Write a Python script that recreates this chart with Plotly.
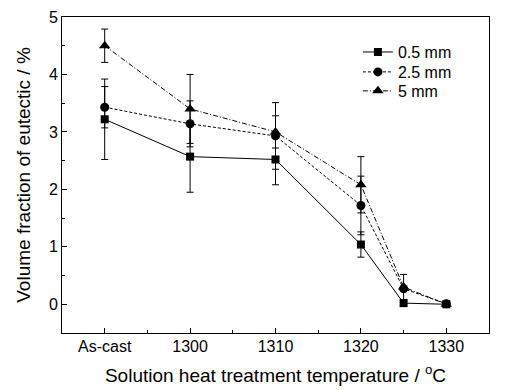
import plotly.graph_objects as go

temps = [1290, 1300, 1310, 1320, 1325, 1330]
tick_vals = [1290, 1300, 1310, 1320, 1330]
tick_text = ["As-cast", "1300", "1310", "1320", "1330"]

sq_vals = [3.22, 2.57, 2.52, 1.04, 0.02, 0.00]
sq_err = [0.70, 0.62, 0.44, 0.22, 0.0, 0.0]
ci_vals = [3.43, 3.14, 2.93, 1.72, 0.27, 0.01]
ci_err = [0.36, 0.40, 0.58, 0.51, 0.0, 0.0]
tr_vals = [4.50, 3.40, 3.00, 2.08, 0.30, 0.00]
tr_err = [0.29, 0.60, 0.28, 0.49, 0.22, 0.0]

series = [
    ("0.5 mm", sq_vals, sq_err, "square", 8, "solid", "legend", 0.889),
    ("2.5 mm", ci_vals, ci_err, "circle", 9, "3px,2px", "legend2", 0.826),
    ("5 mm", tr_vals, tr_err, "triangle-up", 10, "5px,2px,1px,2px", "legend3", 0.766),
]

fig = go.Figure()
legend_layouts = {}
for name, vals, err, sym, sz, dash, leg, ly in series:
    fig.add_trace(go.Scatter(
        x=temps, y=vals, name=name, mode="lines+markers",
        line=dict(color="black", width=1, dash=dash),
        marker=dict(symbol=sym, size=sz, color="black"),
        error_y=dict(type="data", array=err, visible=True,
                     color="black", thickness=1, width=3.5),
        legend=leg,
    ))
    legend_layouts[leg] = dict(x=0.693, y=ly, xanchor="left", yanchor="middle",
                               bgcolor="rgba(0,0,0,0)", borderwidth=0,
                               font=dict(size=16))

font_family = "Liberation Sans, Arial, sans-serif"
fig.update_layout(
    width=518, height=390,
    margin=dict(l=62, r=29, t=17, b=57, autoexpand=False),
    paper_bgcolor="white", plot_bgcolor="white",
    font=dict(family=font_family, color="black", size=16),
    showlegend=True,
    **legend_layouts,
)
fig.update_xaxes(
    range=[1285, 1335], tickvals=tick_vals, ticktext=tick_text,
    ticks="inside", ticklen=5, tickwidth=1, tickcolor="black",
    minor=dict(dtick=5, tick0=1285, ticks="inside", ticklen=3, tickcolor="black"),
    showline=True, linecolor="black", linewidth=1, mirror=True,
    showgrid=False, zeroline=False, automargin=False,
    tickfont=dict(size=16), ticklabelstandoff=-1,
    title=dict(text="Solution heat treatment temperature / <sup>o</sup>C",
               font=dict(size=19), standoff=14),
)
fig.update_yaxes(
    range=[-0.5, 5], tickvals=[0, 1, 2, 3, 4, 5],
    ticks="inside", ticklen=5, tickwidth=1, tickcolor="black",
    minor=dict(dtick=0.5, tick0=0, ticks="inside", ticklen=3, tickcolor="black"),
    showline=True, linecolor="black", linewidth=1, mirror=True,
    showgrid=False, zeroline=False, automargin=False,
    tickfont=dict(size=16), ticklabelstandoff=0,
    title=dict(text="Volume fraction of eutectic / %", font=dict(size=19), standoff=13),
)

fig.write_html("out.html",
               config={"displayModeBar": False},
               post_script="document.body.style.margin='0';document.body.style.padding='0';")
